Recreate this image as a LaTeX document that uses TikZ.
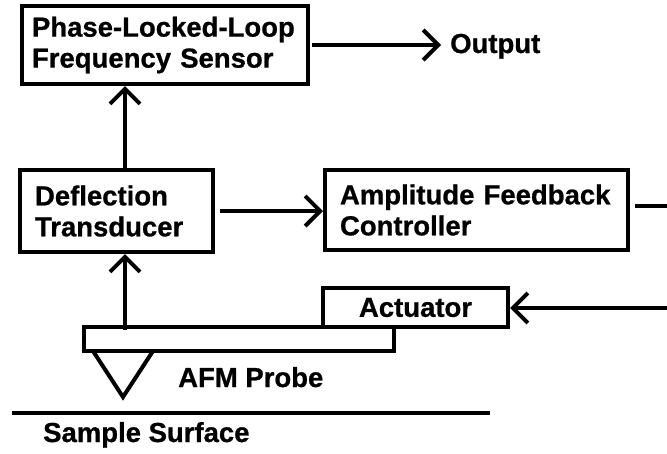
\documentclass[tikz,border=0pt]{standalone}
\usepackage{fontspec}
\setmainfont{Liberation Sans}[BoldFeatures={FakeBold=0.8}]
\usetikzlibrary{arrows.meta}
\begin{document}
\begin{tikzpicture}[x=1pt,y=-1pt,
  every node/.style={font=\fontsize{27.5}{31}\selectfont\bfseries},
  blockbox/.style={draw, line width=4pt, inner ysep=0pt, align=left, anchor=center},
  plainbar/.style={draw, line width=4pt, inner sep=0pt, anchor=center},
  lbl/.style={inner sep=0pt, anchor=base west},
  wire/.style={line width=4pt},
  arr/.style={line width=4pt, -{Straight Barb[length=15pt,width=30pt]}}]

  % page and background
  \useasboundingbox (0,0) rectangle (667,453);
  \fill[white] (0,0) rectangle (667,453);

  % signal-processing blocks
  \node[blockbox, minimum width=286pt, minimum height=78pt, inner xsep=10pt, text width=266pt]
    (pll) at (165,45) {Phase-Locked-Loop\\Frequency Sensor};
  \node[blockbox, minimum width=193pt, minimum height=82pt, inner xsep=15pt, text width=163pt]
    (defl) at (116.5,211) {Deflection\\Transducer};
  \node[blockbox, minimum width=303pt, minimum height=80pt, inner xsep=15pt, text width=273pt]
    (amp) at (476.5,210) {Amplitude Feedback\\Controller};

  % actuator and cantilever
  \node[plainbar, minimum width=185pt, minimum height=39pt] (act) at (415.5,307.5) {Actuator};
  \node[plainbar, minimum width=310pt, minimum height=24pt] (cant) at (239,339) {};

  % text labels
  \node[lbl] (out) at (450,53) {Output};
  \node[lbl] (afm) at (178,387) {AFM Probe};
  \node[lbl] (surf) at (43,442) {Sample Surface};

  % probe tip and sample surface
  \coordinate (tipL) at (93,351);
  \coordinate (tipA) at (123,397);
  \coordinate (tipR) at (153,351);
  \draw[wire, line join=miter] (tipL) -- (tipA) -- (tipR);
  \coordinate (surfL) at (12,413);
  \coordinate (surfR) at (490,413);
  \draw[wire] (surfL) -- (surfR);

  % signal paths
  \coordinate (col) at (125,0);
  \draw[arr] ([yshift=-5pt]col |- cant.north) -- (col |- defl.south);
  \draw[arr] (col |- defl.north) -- (col |- pll.south);
  \draw[arr] ([xshift=2pt]pll.east) -- ([xshift=-9pt]pll.east -| out.west);
  \draw[arr] ([xshift=5pt]defl.east) -- (defl.east -| amp.west);

  % feedback lines leaving the right edge
  \coordinate (edgeA) at (667,206);
  \coordinate (edgeB) at (667,308);
  \draw[wire] ([xshift=5pt]amp.east |- edgeA) -- (edgeA);
  \draw[arr] (edgeB) -- (edgeB -| act.east);
\end{tikzpicture}
\end{document}
